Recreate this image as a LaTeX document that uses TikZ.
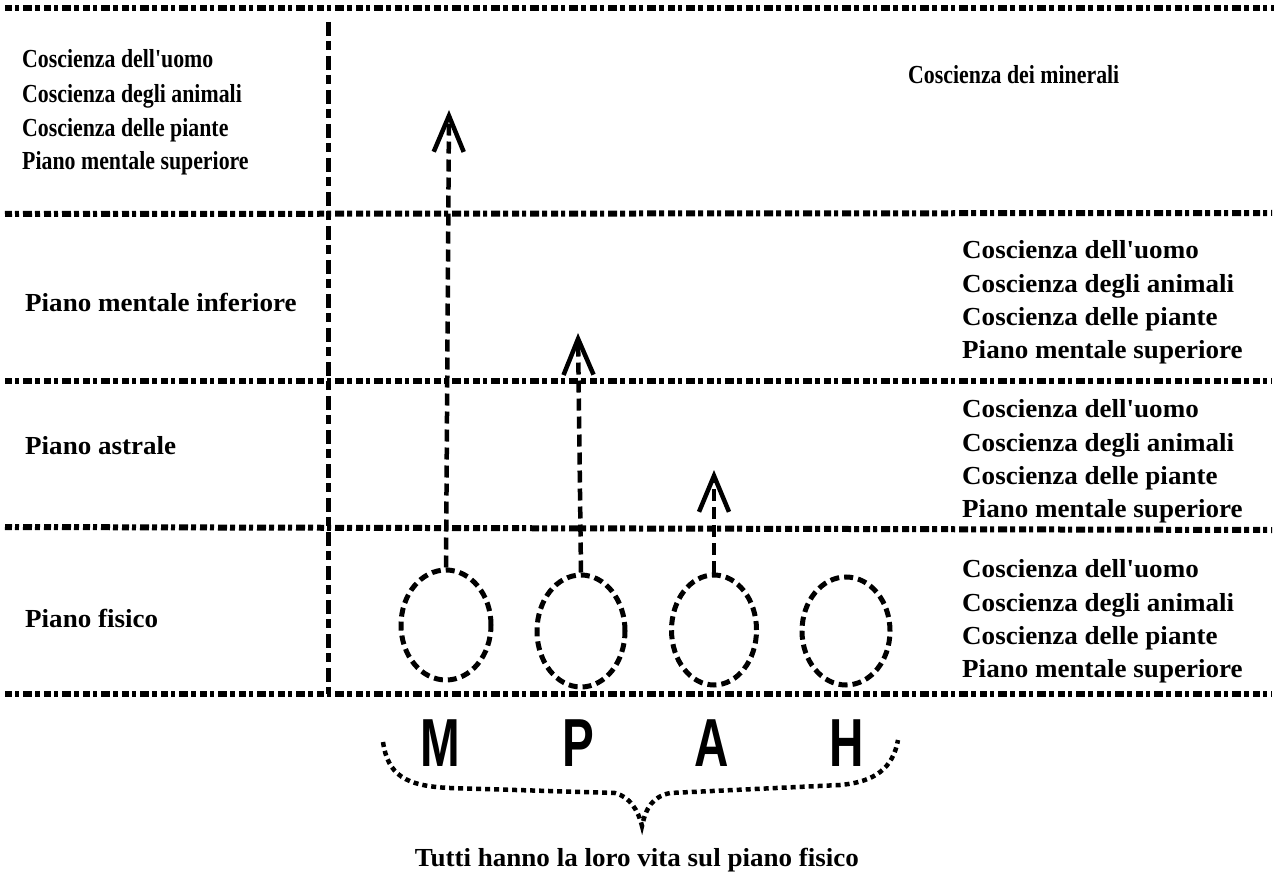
\documentclass[tikz,border=0pt]{standalone}
\usepackage{fontspec}
\setmainfont{Liberation Serif}
\newfontfamily\planefont{Liberation Serif}[FakeStretch=1.04]
\newfontfamily\plainlabel{Liberation Serif}[FakeStretch=0.84]
\newfontfamily\letterfont{Liberation Sans}[FakeStretch=0.7]
\usetikzlibrary{shapes.geometric,arrows.meta}

\tikzset{
  rule/.style={line width=6pt,
    dash pattern=on 7pt off 3pt on 4pt off 4pt on 9pt off 3pt on 5pt off 4pt},
  vline/.style={line width=5pt, dash pattern=on 14pt off 5pt on 9pt off 6pt},
  ring/.style={draw, ellipse, line width=5pt, dash pattern=on 9pt off 5pt,
    inner sep=0pt},
  rise/.style={line width=4.5pt, dash pattern=on 12pt off 6pt,
    -{Straight Barb[length=36pt,width=30pt,line width=4.5pt]}},
  brace/.style={line width=4.5pt, dash pattern=on 5pt off 4pt},
  wide/.style={anchor=base west, inner sep=0pt,
    font=\planefont\bfseries\fontsize{26}{28}\selectfont},
  narrow/.style={anchor=base west, inner sep=0pt,
    font=\plainlabel\bfseries\fontsize{26}{28}\selectfont},
  letter/.style={inner sep=0pt,
    font=\letterfont\bfseries\fontsize{68}{70}\selectfont},
}

\begin{document}
\begin{tikzpicture}[x=1pt, y=-1pt]
\fill[white] (0,0) rectangle (1279,874);
\path[use as bounding box] (0,0) rectangle (1279,874);

% plane boundaries
\draw[rule] (5,8) -- (1274,8);
\draw[rule] (5,214) -- (1272,213);
\draw[rule] (5,381) -- (1272,381);
\draw[rule] (5,527) -- (1272,530);
\draw[rule] (5,694) -- (1272,694);

% vertical separator of the left column
\draw[vline] (328,22) -- (328,694);

% left column
\node[narrow] (lu) at (22,68)  {Coscienza dell'uomo};
\node[narrow] (la) at (22,103) {Coscienza degli animali};
\node[narrow] (lp) at (22,137) {Coscienza delle piante};
\node[narrow] (ls) at (22,170) {Piano mentale superiore};
\node[wide] (pmi) at (25,312) {Piano mentale inferiore};
\node[wide] (pas) at (25,454) {Piano astrale};
\node[wide] (pfi) at (25,627) {Piano fisico};

% right column
\node[narrow] (min) at (908,84) {Coscienza dei minerali};
\foreach \n/\b in {a/259, b/417, c/577}{
  \node[wide] (u\n) at (962,\b) {Coscienza dell'uomo};
  \node[wide] (g\n) at (962,\b+34) {Coscienza degli animali};
  \node[wide] (p\n) at (962,\b+67) {Coscienza delle piante};
  \node[wide] (s\n) at (962,\b+100) {Piano mentale superiore};
}

% the four beings
\node[ring, minimum width=90pt, minimum height=110pt] (cM) at (446,625) {};
\node[ring, minimum width=88pt, minimum height=112pt] (cP) at (581,631) {};
\node[ring, minimum width=85pt, minimum height=110pt] (cA) at (714,630) {};
\node[ring, minimum width=88pt, minimum height=108pt] (cH) at (846,631) {};

\node[letter] (M) at (440,743) {M};
\node[letter] (P) at (578,743) {P};
\node[letter] (A) at (712,743) {A};
\node[letter] (H) at (847,743) {H};

% rising arrows
\coordinate (tM) at (449,110);
\coordinate (tP) at (578,333);
\coordinate (tA) at (714,470);
\draw[rise] (cM.north) -- (tM);
\draw[rise] (cP.north) -- (tP);
\draw[rise] (cA.north) -- (tA);

% brace under the letters
\coordinate (tip) at (642,826);
\draw[brace] (383,742) .. controls (388,775) and (405,786) .. (450,788)
  -- (615,793) .. controls (630,797) and (638,810) .. (tip)
  .. controls (646,808) and (652,797) .. (670,793)
  -- (840,785) .. controls (875,782) and (893,768) .. (898,740);

\node[wide, anchor=base] (all) at (637,866) {Tutti hanno la loro vita sul piano fisico};
\end{tikzpicture}
\end{document}
